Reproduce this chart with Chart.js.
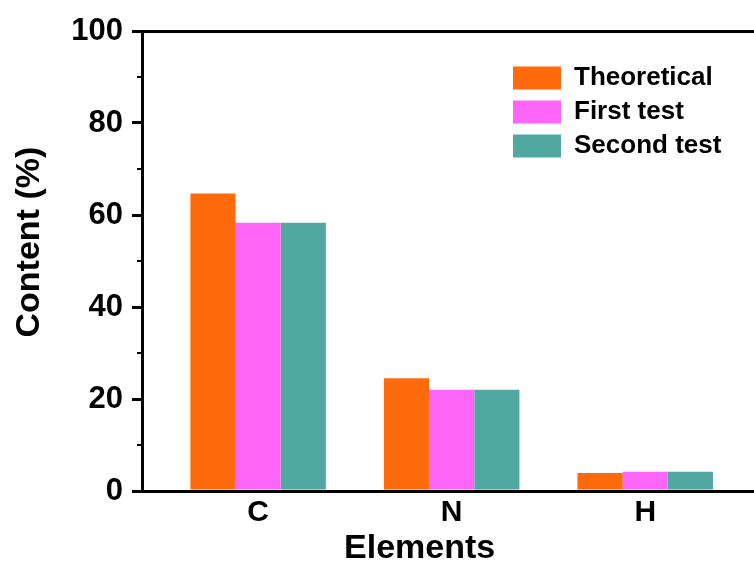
<!DOCTYPE html>
<html>
<head>
<meta charset="utf-8">
<script src="https://cdn.jsdelivr.net/npm/chart.js@4"></script>
<style>
  body { margin: 0; background: #fff; }
  #wrap { width: 754px; height: 569px; }
</style>
</head>
<body>
<div id="wrap"><canvas id="contentChart" width="754" height="569"></canvas></div>
<script>
const elements = ['C', 'N', 'H'];
const theoretical = [64.7, 24.5, 3.9];
const firstTest = [58.3, 22.0, 4.2];
const secondTest = [58.3, 22.0, 4.2];
const yTicks = [0, 20, 40, 60, 80, 100];

const fontFamily = "'Liberation Sans', Arial, sans-serif";

// bars sit on a linear x axis so the groups can be placed like the original
function toPoints(values) {
    return values.map((v, i) => ({ x: i + 1, y: v }));
}

// put the legend inside the plot, top right
const legendInPlot = {
    id: 'legendInPlot',
    afterLayout(chart) {
        const lg = chart.legend;
        const w = lg.width, h = lg.height;
        lg.left = 505;
        lg.top = 57;
        lg.right = lg.left + w;
        lg.bottom = lg.top + h;
    }
};

const ctx = document.getElementById('contentChart').getContext('2d');
const contentChart = new Chart(ctx, {
    type: 'bar',
    data: {
        datasets: [
            { label: 'Theoretical', data: toPoints(theoretical), backgroundColor: '#FF6A0D', borderWidth: 0 },
            { label: 'First test', data: toPoints(firstTest), backgroundColor: '#FF66F7', borderWidth: 0 },
            { label: 'Second test', data: toPoints(secondTest), backgroundColor: '#50A8A0', borderWidth: 0 }
        ]
    },
    options: {
        responsive: false,
        animation: false,
        layout: { padding: { top: 31, right: 0, bottom: 0, left: 0 } },
        datasets: { bar: { categoryPercentage: 0.7, barPercentage: 1.0 } },
        plugins: {
            tooltip: { enabled: false },
            legend: {
                position: 'chartArea',
                align: 'start',
                labels: {
                    boxWidth: 48,
                    boxHeight: 23,
                    padding: 8,
                    color: '#000',
                    font: { family: fontFamily, size: 26, weight: 'bold' }
                }
            }
        },
        scales: {
            x: {
                type: 'linear',
                position: 'bottom',
                offset: false,
                min: 0.4,
                max: 3.562,
                afterBuildTicks: s => { s.ticks = elements.map((e, i) => ({ value: i + 1 })); },
                afterFit: s => { s.height = 78; },
                ticks: {
                    callback: v => elements[v - 1],
                    autoSkip: false,
                    maxRotation: 0,
                    padding: 4,
                    color: '#000',
                    font: { family: fontFamily, size: 30, weight: 'bold' }
                },
                grid: { display: false, drawTicks: false },
                border: { display: true, color: '#000', width: 3 },
                title: {
                    display: true,
                    text: 'Elements      ',
                    color: '#000',
                    padding: { top: 0, bottom: 0 },
                    font: { family: fontFamily, size: 34, weight: 'bold' }
                }
            },
            xTop: {
                type: 'linear',
                position: 'top',
                offset: false,
                min: 0.4,
                max: 3.562,
                afterFit: s => { s.height = 0; },
                ticks: { display: false },
                grid: { display: false, drawTicks: false },
                border: { display: true, color: '#000', width: 3 }
            },
            y: {
                type: 'linear',
                position: 'left',
                weight: 1,
                min: 0,
                max: 100,
                afterBuildTicks: s => { s.ticks = yTicks.map(v => ({ value: v })); },
                afterFit: s => { s.width = 142; },
                ticks: {
                    padding: 9,
                    color: '#000',
                    font: { family: fontFamily, size: 31, weight: 'bold' }
                },
                grid: { drawOnChartArea: false, tickLength: 10, lineWidth: 3, color: '#000' },
                border: { display: true, color: '#000', width: 3 },
                title: {
                    display: true,
                    text: '    Content (%)',
                    color: '#000',
                    padding: { top: 9, bottom: 0 },
                    font: { family: fontFamily, size: 34, weight: 'bold' }
                }
            },
            yMinor: {
                type: 'linear',
                position: 'left',
                weight: 0,
                min: 0,
                max: 100,
                afterFit: s => { s.width = 0; },
                ticks: { display: false, stepSize: 10 },
                grid: { drawOnChartArea: false, tickLength: 5, lineWidth: 2, color: '#000' },
                border: { display: false }
            }
        }
    },
    plugins: [legendInPlot]
});
</script>
</body>
</html>
